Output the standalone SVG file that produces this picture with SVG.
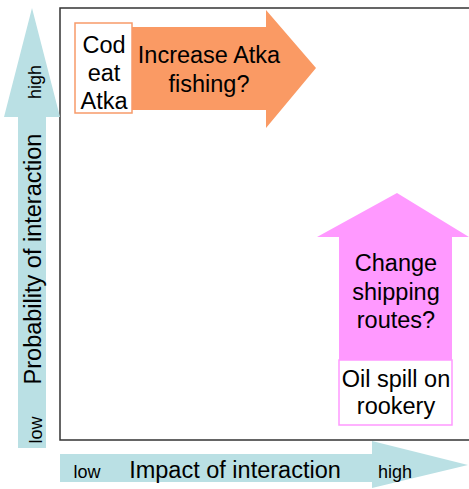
<svg xmlns="http://www.w3.org/2000/svg" width="469" height="489" viewBox="0 0 469 489">
<style>
text{font-family:"Liberation Sans",Arial,sans-serif;fill:#000;text-anchor:middle}
.big{font-size:23.5px}
.sm{font-size:18px}
.axis{fill:#BAE0E4}
</style>
<rect width="469" height="489" fill="#fff"/>
<g id="plot-frame">
<path d="M480,8 H60 V440 H480" fill="none" stroke="#333" stroke-width="1.5"/>
</g>
<g id="y-axis">
<polygon class="axis" points="18,448 18,117 4,117 32,8 60,117 46,117 46,448"/>
<text class="sm" transform="translate(42,430) rotate(-90)">low</text>
<text class="big" transform="translate(41,259) rotate(-90)">Probability of interaction</text>
<text class="sm" transform="translate(41,82) rotate(-90)">high</text>
</g>
<g id="x-axis">
<polygon class="axis" points="60,454 372,454 372,441 468,465 372,488 372,482 60,482"/>
<text class="sm" x="87" y="478">low</text>
<text class="big" x="235" y="478">Impact of interaction</text>
<text class="sm" x="395" y="478">high</text>
</g>
<g id="atka-arrow">
<polygon fill="#FA9A64" points="132,27 266,27 266,10 316,68 266,128 266,110 132,110"/>
<text class="big" x="209" y="63">Increase Atka</text>
<text class="big" x="209" y="92">fishing?</text>
</g>
<g id="cod-box">
<rect x="75" y="23" width="57" height="90" fill="#fff" stroke="#F79A6A" stroke-width="1.5"/>
<text class="big" x="104" y="53">Cod</text>
<text class="big" x="104" y="81">eat</text>
<text class="big" x="104" y="109">Atka</text>
</g>
<g id="shipping-arrow">
<polygon fill="#FF99FF" points="339,360 339,237 317,237 397,193 469,237 452,237 452,360"/>
<text class="big" x="396" y="271">Change</text>
<text class="big" x="396" y="300">shipping</text>
<text class="big" x="396" y="328">routes?</text>
</g>
<g id="oil-box">
<rect x="339" y="360" width="113" height="65" fill="#fff" stroke="#FF99FF" stroke-width="1.5"/>
<text class="big" x="396" y="387">Oil spill on</text>
<text class="big" x="396" y="414">rookery</text>
</g>
</svg>
